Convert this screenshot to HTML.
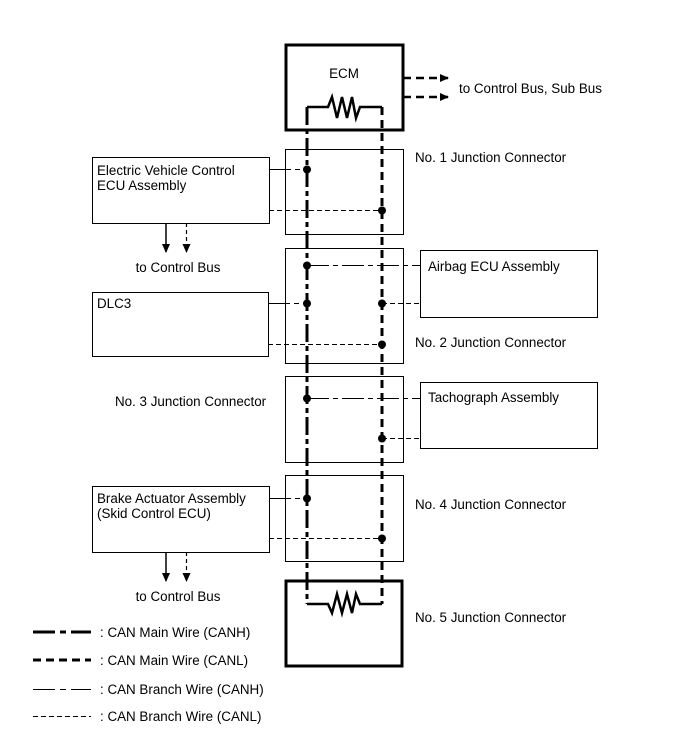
<!DOCTYPE html>
<html><head><meta charset="utf-8"><style>
html,body{margin:0;padding:0;background:#fff;}
svg{display:block;}
text{font-family:"Liberation Sans",Arial,sans-serif;font-size:13.4px;fill:#000;}
</style></head><body>
<svg width="689" height="756" viewBox="0 0 689 756" xmlns="http://www.w3.org/2000/svg">
<defs>
<marker id="ah" markerWidth="10" markerHeight="10" refX="8" refY="5" orient="auto" markerUnits="userSpaceOnUse">
<path d="M0,1 L9,5 L0,9 Z" fill="#000"/></marker>
</defs>
<g fill="none" stroke="#000">
<g stroke-width="1" shape-rendering="crispEdges">
<rect x="285.5" y="149.5" width="118" height="85"/>
<rect x="285.5" y="248.5" width="118" height="115"/>
<rect x="285.5" y="376.5" width="118" height="86"/>
<rect x="285.5" y="475.5" width="118" height="86"/>
<rect x="92.5" y="157.5" width="177" height="66"/>
<rect x="92.5" y="292.5" width="176" height="64"/>
<rect x="92.5" y="486.5" width="177" height="66"/>
<rect x="420.5" y="250.5" width="177" height="67"/>
<rect x="420.5" y="382.5" width="177" height="66"/>
</g>
<rect x="286" y="45" width="117" height="85" stroke-width="3"/>
<rect x="286" y="581" width="116" height="85" stroke-width="3"/>
<line x1="307" y1="107" x2="307" y2="604" stroke-width="3" stroke-dasharray="18,4,5,4"/>
<line x1="382" y1="107" x2="382" y2="604" stroke-width="3" stroke-dasharray="8,5"/>
<polyline points="307,107 328,107 332,97 337,118 342,97 347,118 352,97 356,118 360,107 382,107" stroke-width="2.5"/>
<polyline points="307,604 328,604 332,613 337,594 342,613 347,594 352,613 356,594 360,604 382,604" stroke-width="2.5"/>
<g stroke-width="1" stroke-dasharray="22,4,5,4" shape-rendering="crispEdges">
<line x1="269" y1="169.5" x2="307" y2="169.5"/>
<line x1="307" y1="265.5" x2="420" y2="265.5"/>
<line x1="268" y1="303.5" x2="307" y2="303.5"/>
<line x1="307" y1="398.5" x2="420" y2="398.5"/>
<line x1="269" y1="498.5" x2="307" y2="498.5"/>
</g>
<g stroke-width="1" stroke-dasharray="5,3" shape-rendering="crispEdges">
<line x1="269" y1="210.5" x2="382" y2="210.5"/>
<line x1="382" y1="303.5" x2="420" y2="303.5"/>
<line x1="268" y1="344.5" x2="382" y2="344.5"/>
<line x1="382" y1="438.5" x2="420" y2="438.5"/>
<line x1="269" y1="538.5" x2="382" y2="538.5"/>
</g>
<line x1="403" y1="78" x2="448" y2="78" stroke-width="2.5" stroke-dasharray="8,5" marker-end="url(#ah)"/>
<line x1="403" y1="97" x2="448" y2="97" stroke-width="2.5" stroke-dasharray="8,5" marker-end="url(#ah)"/>
<line x1="166" y1="223" x2="166" y2="252" stroke-width="1.5" marker-end="url(#ah)"/>
<line x1="186.5" y1="223" x2="186.5" y2="252" stroke-width="1.2" stroke-dasharray="4,3" marker-end="url(#ah)"/>
<line x1="166" y1="552" x2="166" y2="581" stroke-width="1.5" marker-end="url(#ah)"/>
<line x1="186.5" y1="552" x2="186.5" y2="581" stroke-width="1.2" stroke-dasharray="4,3" marker-end="url(#ah)"/>
<line x1="33" y1="632" x2="91" y2="632" stroke-width="3" stroke-dasharray="22,5,6,5"/>
<line x1="33" y1="660" x2="91" y2="660" stroke-width="3" stroke-dasharray="8,5"/>
<line x1="33" y1="689.5" x2="91" y2="689.5" stroke-width="1" stroke-dasharray="22,5,6,5" shape-rendering="crispEdges"/>
<line x1="33" y1="716.5" x2="91" y2="716.5" stroke-width="1" stroke-dasharray="5,3" shape-rendering="crispEdges"/>
</g>
<g fill="#000">
<circle cx="307" cy="169.5" r="4"/><circle cx="382" cy="210.5" r="4"/>
<circle cx="307" cy="265.5" r="4"/><circle cx="307" cy="303.5" r="4"/><circle cx="382" cy="303.5" r="4"/><circle cx="382" cy="344.5" r="4"/>
<circle cx="307" cy="398.5" r="4"/><circle cx="382" cy="438.5" r="4"/>
<circle cx="307" cy="498.5" r="4"/><circle cx="382" cy="538.5" r="4"/>
</g>
<text x="344" y="78" text-anchor="middle">ECM</text>
<text x="459" y="93">to Control Bus, Sub Bus</text>
<text x="415" y="162">No. 1 Junction Connector</text>
<text x="97" y="175">Electric Vehicle Control</text>
<text x="97" y="190">ECU Assembly</text>
<text x="178" y="272" text-anchor="middle">to Control Bus</text>
<text x="428" y="271">Airbag ECU Assembly</text>
<text x="97" y="308">DLC3</text>
<text x="415" y="347">No. 2 Junction Connector</text>
<text x="115" y="406">No. 3 Junction Connector</text>
<text x="428" y="402">Tachograph Assembly</text>
<text x="97" y="503">Brake Actuator Assembly</text>
<text x="97" y="518">(Skid Control ECU)</text>
<text x="415" y="509">No. 4 Junction Connector</text>
<text x="178" y="601" text-anchor="middle">to Control Bus</text>
<text x="415" y="622">No. 5 Junction Connector</text>
<text x="100" y="637">: CAN Main Wire (CANH)</text>
<text x="100" y="665">: CAN Main Wire (CANL)</text>
<text x="100" y="694">: CAN Branch Wire (CANH)</text>
<text x="100" y="721">: CAN Branch Wire (CANL)</text>
</svg>
</body></html>
